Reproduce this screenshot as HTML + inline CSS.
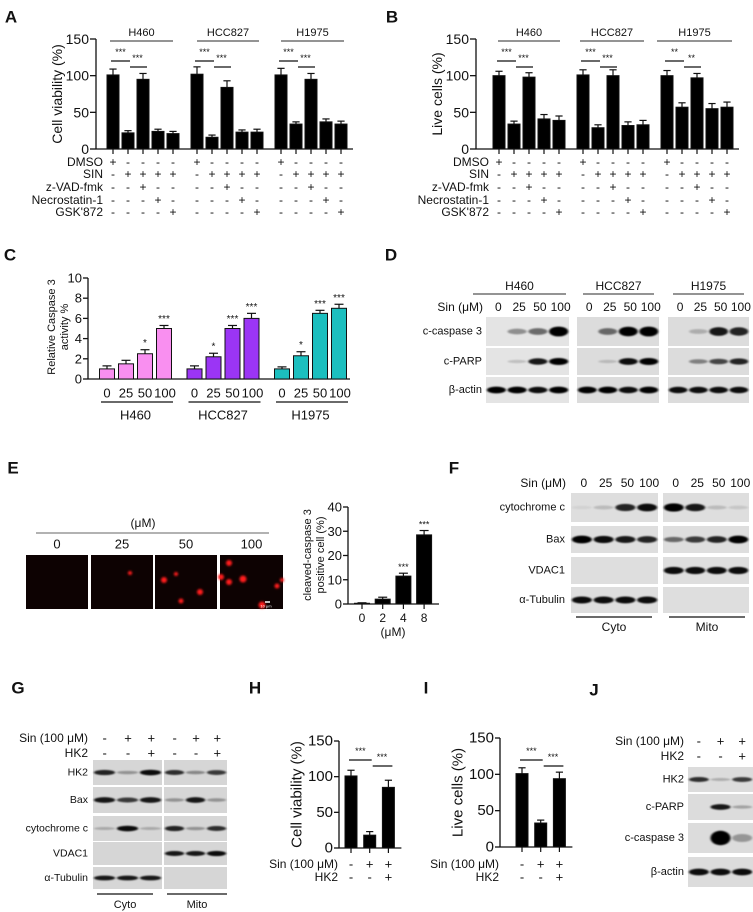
<!DOCTYPE html>
<html><head><meta charset="utf-8">
<style>
html,body{margin:0;padding:0;background:#fff;}
svg{display:block;font-family:"Liberation Sans",Arial,sans-serif;}
</style></head>
<body>
<svg id="fig" width="753" height="912" viewBox="0 0 753 912" xmlns="http://www.w3.org/2000/svg">
<defs>
<filter id="blur1" x="-50%" y="-100%" width="200%" height="300%"><feGaussianBlur stdDeviation="1.1 0.9"/></filter>
<filter id="blur2" x="-50%" y="-50%" width="200%" height="200%"><feGaussianBlur stdDeviation="1.1"/></filter>
</defs>
</svg>
<script>
// ---------- data ----------
const groupsABC = ['H460','HCC827','H1975'];
const aH460 = [101,22,95,24,21];
const aHCC827 = [102,16,84,23,23];
const aH1975 = [101,34,95,37,34];
const aErrH460 = [8,3,8,3,3];
const aErrHCC827 = [10,3,9,3,4];
const aErrH1975 = [9,3,8,4,4];
const bH460 = [100,34,98,41,39];
const bHCC827 = [101,29,100,32,33];
const bH1975 = [100,57,97,55,57];
const bErrH460 = [6,4,6,6,6];
const bErrHCC827 = [7,4,8,5,6];
const bErrH1975 = [7,6,6,7,7];
const sigA = ['***','***','***','***','***','***'];
const sigB = ['***','***','***','***','**','**'];
const abTicks = [0,50,100,150];
const treatLabels = ['DMSO','SIN','z-VAD-fmk','Necrostatin-1',"GSK'872"];
const treatDMSO = ['+','-','-','-','-'];
const treatSIN = ['-','+','+','+','+'];
const treatZVAD = ['-','-','+','-','-'];
const treatNec = ['-','-','-','+','-'];
const treatGSK = ['-','-','-','-','+'];
const cDoses = ['0','25','50','100'];
const cH460 = [1.0,1.5,2.5,5.0];
const cHCC827 = [1.0,2.2,5.0,6.0];
const cH1975 = [1.0,2.3,6.5,7.0];
const cErrH460 = [0.3,0.35,0.4,0.3];
const cErrHCC827 = [0.3,0.35,0.3,0.5];
const cErrH1975 = [0.2,0.4,0.3,0.4];
const cSigH460 = ['','','*','***'];
const cSigHCC827 = ['','*','***','***'];
const cSigH1975 = ['','*','***','***'];
const cTicks = [0,2,4,6,8,10];
const eDoses = ['0','2','4','8'];
const eVals = [0.3,2,11.5,28.5];
const eErrs = [0.2,0.8,1.2,1.8];
const eSig = ['','','***','***'];
const eTicks = [0,10,20,30,40];
const hVals = [101,18,85];
const hErrs = [8,5,10];
const iVals = [101,33,94];
const iErrs = [8,4,9];
const hiTicks = [0,50,100,150];
const hiSin = ['-','+','+'];
const hiHK2 = ['-','-','+'];

// ---------- helpers ----------
const NS = 'http://www.w3.org/2000/svg';
const svg = document.getElementById('fig');
function mk(tag, attrs, parent, name) {
  const el = document.createElementNS(NS, tag);
  for (const k in attrs) el.setAttribute(k, attrs[k]);
  
  
  (parent || svg).appendChild(el);
  return el;
}
function grp(name) { return mk('g', {}, svg, name); }
function txt(p, x, y, s, size, anchor, name, extra) {
  const a = {x: x, y: y, 'font-size': size, 'text-anchor': anchor || 'middle', 'dominant-baseline': 'central', fill: '#111'};
  if (extra) for (const k in extra) a[k] = extra[k];
  const t = mk('text', a, p, name);
  t.textContent = s;
  return t;
}
function line(p, x1, y1, x2, y2, name, w, col) {
  return mk('line', {x1: x1, y1: y1, x2: x2, y2: y2, stroke: col || '#111', 'stroke-width': w || 1}, p, name);
}
function yAxis(p, x, yf, ticks, size, name, tickLen) {
  line(p, x, yf(ticks[ticks.length - 1]), x, yf(ticks[0]), name + '-line', 1.3);
  ticks.forEach(t => {
    line(p, x - (tickLen || 5), yf(t), x, yf(t), name + '-tick', 1.3);
    txt(p, x - (tickLen || 5) - 1, yf(t), String(t), size, 'end', name + '-label');
  });
}
function bars(p, vals, errs, xf, yf, w, fill, name, sigs, sigSize) {
  vals.forEach((v, i) => {
    const x = xf(i), top = yf(v), base = yf(0);
    mk('rect', {x: x - w / 2, y: top, width: w, height: base - top, fill: fill, stroke: '#111', 'stroke-width': 1}, p, name + '-bar');
    const et = yf(v + errs[i]);
    line(p, x, top, x, et, name + '-error', 1.2);
    line(p, x - w * 0.3, et, x + w * 0.3, et, name + '-error-cap', 1.2);
    if (sigs && sigs[i]) txt(p, x, et - 6, sigs[i], sigSize || 9, 'middle', name + '-significance');
  });
}
function panelLabel(x, y, s) { txt(svg, x, y, s, 17, 'middle', 'panel-label-' + s.toLowerCase(), {'font-weight': 'bold'}); }

// ---------- panels A / B ----------
function panelAB(letter, axisX, firstX, title, vals, errs, sigs, labelRight, hdrs) {
  const p = grp('panel-' + letter.toLowerCase());
  panelLabel(letter === 'A' ? 11 : 392, 17, letter);
  const yf = v => 149 - v * 110 / 150;
  const xf = (g, j) => firstX + g * 84 + j * 15;
  yAxis(p, axisX, yf, abTicks, 14, 'y-axis-' + letter.toLowerCase(), 6);
  line(p, axisX, 149, xf(2, 4) + 12, 149, 'x-axis-' + letter.toLowerCase(), 1.3);
  txt(p, axisX - 39, 94, title, 14, 'middle', 'y-axis-title-' + letter.toLowerCase(), {transform: 'rotate(-90 ' + (axisX - 39) + ' 94)'});
  const rows = [treatDMSO, treatSIN, treatZVAD, treatNec, treatGSK];
  const rowY = [162, 174, 187, 200, 212];
  groupsABC.forEach((gname, g) => {
    bars(p, vals[g], errs[g], j => xf(g, j), yf, 12, '#000', 'bar-' + letter.toLowerCase() + '-' + gname.toLowerCase());
    for (let j = 0; j < 5; j++) line(p, xf(g, j), 149, xf(g, j), 154, 'x-tick', 1.2);
    line(p, hdrs[g][0], 41, hdrs[g][1], 41, 'group-line-' + gname.toLowerCase(), 1.2, '#555');
    txt(p, (hdrs[g][0] + hdrs[g][1]) / 2, 33, gname, 11, 'middle', 'group-header-' + gname.toLowerCase());
    const y1 = 61, y2 = 67;
    line(p, xf(g, 0) - 2, y1, xf(g, 1) + 2, y1, 'sig-bracket', 1.2);
    txt(p, (xf(g, 0) + xf(g, 1)) / 2, y1 - 9, sigs[g * 2], 9, 'middle', 'sig-stars');
    line(p, xf(g, 1) + 2, y2, xf(g, 2) + 4, y2, 'sig-bracket', 1.2);
    txt(p, (xf(g, 1) + xf(g, 2)) / 2 + 2, y2 - 9, sigs[g * 2 + 1], 9, 'middle', 'sig-stars');
    rows.forEach((r, ri) => r.forEach((s, j) => txt(p, xf(g, j), rowY[ri], s, 12, 'middle', 'treatment-sign')));
  });
  treatLabels.forEach((l, ri) => txt(p, labelRight, rowY[ri], l, 12, 'end', 'treatment-label'));
}
panelAB('A', 96, 113, 'Cell viability (%)', [aH460, aHCC827, aH1975], [aErrH460, aErrHCC827, aErrH1975], sigA, 103,
  [[110, 173], [197, 259], [281, 344]]);
panelAB('B', 476, 499, 'Live cells (%)', [bH460, bHCC827, bH1975], [bErrH460, bErrHCC827, bErrH1975], sigB, 489,
  [[498, 560], [580, 644], [657, 732]]);

// ---------- panel C ----------
(function () {
  const p = grp('panel-c');
  panelLabel(10, 255, 'C');
  const yf = v => 379 - v * 10.1;
  const xf = (g, j) => 107 + g * 87.5 + j * 19;
  yAxis(p, 88, yf, cTicks, 13, 'y-axis-c', 5);
  line(p, 88, 379, 350, 379, 'x-axis-c', 1.3);
  txt(p, 52, 327, 'Relative Caspase 3', 11, 'middle', 'y-axis-title-c', {transform: 'rotate(-90 52 327)'});
  txt(p, 65, 327, 'activity %', 11, 'middle', 'y-axis-title-c-2', {transform: 'rotate(-90 65 327)'});
  const cols = ['#f98ff0', '#9b35f5', '#1cbfbf'];
  const vals = [cH460, cHCC827, cH1975], errs = [cErrH460, cErrHCC827, cErrH1975], sigs = [cSigH460, cSigHCC827, cSigH1975];
  groupsABC.forEach((gname, g) => {
    bars(p, vals[g], errs[g], j => xf(g, j), yf, 15, cols[g], 'bar-c-' + gname.toLowerCase(), sigs[g], 10);
    cDoses.forEach((d, j) => txt(p, xf(g, j) + (j === 3 ? 1 : 0), 393, d, 13, 'middle', 'dose-label'));
    line(p, xf(g, 0) - 6, 402, xf(g, 3) + 9, 402, 'group-line-c', 1.2);
    txt(p, (xf(g, 0) + xf(g, 3)) / 2, 415, gname, 13, 'middle', 'group-label-c');
  });
})();

// ---------- blot helper ----------
function blot(p, x, y, w, h, lanes, name, bg, thick) {
  mk('rect', {x: x, y: y, width: w, height: h, fill: bg || '#dadada'}, p, name + '-membrane');
  const n = lanes.length;
  lanes.forEach((v, i) => {
    if (v <= 0) return;
    const cx = x + w * (i + 0.5) / n;
    mk('ellipse', {cx: cx, cy: y + h / 2, rx: w / n * 0.46, ry: h * (thick || 0.1) * (0.45 + 0.75 * v), fill: '#000', opacity: Math.min(1, v * 1.05), filter: 'url(#blur1)'}, p, name + '-band');
  });
}

// ---------- panel D ----------
(function () {
  const p = grp('panel-d');
  panelLabel(391, 255, 'D');
  const cols = [[486, 569], [577, 659], [668, 749]];
  const hdr = [[473, 566], [583, 654], [673, 744]];
  const rowsY = [[317, 346], [348, 375], [377, 403]];
  const rowNames = ['c-caspase 3', 'c-PARP', 'β-actin'];
  const data = [
    [[0, 0.35, 0.5, 1], [0, 0.15, 0.85, 0.95], [0.95, 0.95, 0.9, 0.95]],
    [[0, 0.5, 0.95, 1], [0, 0.15, 0.9, 0.95], [0.95, 1, 0.9, 1]],
    [[0, 0.2, 0.85, 0.8], [0, 0.4, 0.65, 0.8], [0.9, 0.9, 0.9, 0.9]]
  ];
  txt(p, 483, 307, 'Sin (μM)', 12, 'end', 'sin-label-d');
  groupsABC.forEach((gname, g) => {
    txt(p, (hdr[g][0] + hdr[g][1]) / 2, 286, gname, 12, 'middle', 'blot-header-' + gname.toLowerCase());
    line(p, hdr[g][0], 294, hdr[g][1], 294, 'blot-header-line', 1.2, '#555');
    const c = cols[g], lw = (c[1] - c[0]) / 4;
    cDoses.forEach((d, j) => txt(p, c[0] + lw * (j + 0.5) + 2, 307, d, 12, 'middle', 'lane-dose'));
    rowsY.forEach((r, ri) => blot(p, c[0], r[0], c[1] - c[0], r[1] - r[0], data[g][ri], 'blot-d-' + gname.toLowerCase(), g === 0 ? '#e4e4e4' : '#dcdcdc', ri === 0 ? 0.14 : 0.11));
  });
  rowNames.forEach((n, ri) => txt(p, 482, (rowsY[ri][0] + rowsY[ri][1]) / 2, n, 11, 'end', 'blot-row-label'));
})();

// ---------- panel E ----------
(function () {
  const p = grp('panel-e');
  panelLabel(13, 468, 'E');
  txt(p, 143, 523, '(μM)', 12, 'middle', 'unit-label-e');
  line(p, 36, 533, 269, 533, 'dose-line-e', 1.5, '#999');
  const imgs = [[26, 88, '0'], [91, 153, '25'], [155, 217, '50'], [220, 283, '100']];
  const spots = [[], [[130, 573, 2]], [[164, 580, 3], [176, 574, 2], [200, 592, 3], [181, 601, 2.5]],
    [[229, 563, 3], [221, 577, 3], [229, 582, 3], [243, 579, 3.5], [277, 586, 2.5], [282, 580, 2], [262, 605, 3.5]]];
  imgs.forEach((im, k) => {
    txt(p, (im[0] + im[1]) / 2, 544, im[2], 13, 'middle', 'image-dose-label');
    mk('rect', {x: im[0], y: 555, width: im[1] - im[0], height: 54, fill: '#0d0202'}, p, 'fluorescence-image');
    spots[k].forEach(s => mk('circle', {cx: s[0], cy: s[1], r: s[2], fill: '#ff1a1a', filter: 'url(#blur2)'}, p, 'fluorescent-cell'));
  });
  line(p, 265, 602, 270, 602, 'scale-bar', 1.5, '#fff');
  txt(p, 266, 606, '10 μm', 4, 'middle', 'scale-bar-label', {fill: '#fff'});
  const yf = v => 604 - v * 97 / 40;
  const xf = i => 362 + i * 20.7;
  yAxis(p, 348, yf, eTicks, 13, 'y-axis-e', 5);
  line(p, 348, 604, 439, 604, 'x-axis-e', 1.3);
  bars(p, eVals, eErrs, xf, yf, 15, '#000', 'bar-e', eSig, 9);
  eDoses.forEach((d, i) => { line(p, xf(i), 604, xf(i), 609, 'x-tick', 1.2); txt(p, xf(i), 618, d, 12, 'middle', 'dose-label-e'); });
  txt(p, 393, 632, '(μM)', 12, 'middle', 'x-axis-title-e');
  txt(p, 308, 555, 'cleaved-caspase 3', 11, 'middle', 'y-axis-title-e', {transform: 'rotate(-90 308 555)'});
  txt(p, 321, 555, 'positive cell (%)', 11, 'middle', 'y-axis-title-e-2', {transform: 'rotate(-90 321 555)'});
})();

// ---------- panel F ----------
(function () {
  const p = grp('panel-f');
  panelLabel(454, 468, 'F');
  txt(p, 566, 483, 'Sin (μM)', 12, 'end', 'sin-label-f');
  const cols = [[571, 658], [663, 749]];
  const rowsY = [[493, 522], [526, 553], [557, 584], [587, 613]];
  const names = ['cytochrome c', 'Bax', 'VDAC1', 'α-Tubulin'];
  const data = [
    [[0.05, 0.15, 0.8, 0.9], [1, 0.9, 0.85, 0.8], [0, 0, 0, 0], [0.9, 0.9, 0.9, 0.9]],
    [[1, 0.85, 0.15, 0.1], [0.5, 0.7, 0.8, 1], [0.9, 0.9, 0.9, 0.9], [0, 0, 0, 0]]
  ];
  const frac = ['Cyto', 'Mito'];
  const lines = [[576, 652], [669, 745]];
  cols.forEach((c, g) => {
    const lw = (c[1] - c[0]) / 4;
    cDoses.forEach((d, j) => txt(p, c[0] + lw * (j + 0.5) + 2, 483, d, 12, 'middle', 'lane-dose'));
    rowsY.forEach((r, ri) => blot(p, c[0], r[0], c[1] - c[0], r[1] - r[0], data[g][ri], 'blot-f-' + frac[g].toLowerCase(), '#dedede', 0.12));
    line(p, lines[g][0], 617, lines[g][1], 617, 'fraction-line', 1.3);
    txt(p, (lines[g][0] + lines[g][1]) / 2, 627, frac[g], 12, 'middle', 'fraction-label');
  });
  names.forEach((n, ri) => txt(p, 565, (rowsY[ri][0] + rowsY[ri][1]) / 2, n, 11, 'end', 'blot-row-label'));
})();

// ---------- panel G ----------
(function () {
  const p = grp('panel-g');
  panelLabel(18, 688, 'G');
  txt(p, 88, 738, 'Sin (100 μM)', 12, 'end', 'sin-label-g');
  txt(p, 88, 753, 'HK2', 12, 'end', 'hk2-label-g');
  const cols = [[93, 163], [164, 228]];
  const rowsY = [[760, 785], [787, 813], [816, 841], [842, 865], [867, 889]];
  const names = ['HK2', 'Bax', 'cytochrome c', 'VDAC1', 'α-Tubulin'];
  const data = [
    [[0.8, 0.3, 0.9], [0.85, 0.7, 0.85], [0.2, 0.9, 0.2], [0, 0, 0], [0.85, 0.85, 0.85]],
    [[0.75, 0.35, 0.7], [0.3, 0.85, 0.3], [0.8, 0.3, 0.75], [0.85, 0.85, 0.9], [0, 0, 0]]
  ];
  const frac = ['Cyto', 'Mito'];
  const lines = [[97, 153], [167, 227]];
  cols.forEach((c, g) => {
    const lw = (c[1] - c[0]) / 3;
    hiSin.forEach((s, j) => txt(p, c[0] + lw * (j + 0.5), 738, s, 13, 'middle', 'sin-sign'));
    hiHK2.forEach((s, j) => txt(p, c[0] + lw * (j + 0.5), 753, s, 13, 'middle', 'hk2-sign'));
    rowsY.forEach((r, ri) => blot(p, c[0], r[0], c[1] - c[0] - 1, r[1] - r[0], data[g][ri], 'blot-g-' + frac[g].toLowerCase(), '#d6d6d6', 0.1));
    line(p, lines[g][0], 894, lines[g][1], 894, 'fraction-line', 1.3);
    txt(p, (lines[g][0] + lines[g][1]) / 2, 905, frac[g], 11, 'middle', 'fraction-label');
  });
  names.forEach((n, ri) => txt(p, 88, (rowsY[ri][0] + rowsY[ri][1]) / 2, n, 10.5, 'end', 'blot-row-label'));
})();

// ---------- panels H / I ----------
function panelHI(letter, lx, axisX, firstX, y150, y0, title, vals, errs, signRight) {
  const p = grp('panel-' + letter.toLowerCase());
  panelLabel(lx, 688, letter);
  const yf = v => y0 - v * (y0 - y150) / 150;
  const xf = i => firstX + i * 18.7;
  yAxis(p, axisX, yf, hiTicks, 15, 'y-axis-' + letter.toLowerCase(), 5);
  line(p, axisX, y0, xf(2) + 13, y0, 'x-axis-' + letter.toLowerCase(), 1.3);
  bars(p, vals, errs, xf, yf, 12, '#000', 'bar-' + letter.toLowerCase());
  vals.forEach((v, i) => line(p, xf(i), y0, xf(i), y0 + 5, 'x-tick', 1.2));
  txt(p, axisX - 42, (y150 + y0) / 2, title, 15, 'middle', 'y-axis-title-' + letter.toLowerCase(), {transform: 'rotate(-90 ' + (axisX - 42) + ' ' + (y150 + y0) / 2 + ')'});
  line(p, xf(0) - 2, 760, xf(1) + 2, 760, 'sig-bracket', 1.2);
  txt(p, (xf(0) + xf(1)) / 2, 751, '***', 9, 'middle', 'sig-stars');
  line(p, xf(1) + 3, 766, xf(2) + 4, 766, 'sig-bracket', 1.2);
  txt(p, (xf(1) + xf(2)) / 2 + 3, 757, '***', 9, 'middle', 'sig-stars');
  txt(p, signRight, 864, 'Sin (100 μM)', 12, 'end', 'sin-label-' + letter.toLowerCase());
  txt(p, signRight, 877, 'HK2', 12, 'end', 'hk2-label-' + letter.toLowerCase());
  hiSin.forEach((s, i) => txt(p, xf(i), 864, s, 13, 'middle', 'sin-sign'));
  hiHK2.forEach((s, i) => txt(p, xf(i), 877, s, 13, 'middle', 'hk2-sign'));
}
panelHI('H', 255, 339, 351, 741, 848, 'Cell viability (%)', hVals, hErrs, 338);
panelHI('I', 426, 500, 522, 738, 847, 'Live cells (%)', iVals, iErrs, 499);

// ---------- panel J ----------
(function () {
  const p = grp('panel-j');
  panelLabel(594, 690, 'J');
  txt(p, 684, 741, 'Sin (100 μM)', 12, 'end', 'sin-label-j');
  txt(p, 684, 756, 'HK2', 12, 'end', 'hk2-label-j');
  const c = [688, 753];
  const lw = (c[1] - c[0]) / 3;
  hiSin.forEach((s, j) => txt(p, c[0] + lw * (j + 0.5), 741, s, 13, 'middle', 'sin-sign'));
  hiHK2.forEach((s, j) => txt(p, c[0] + lw * (j + 0.5), 756, s, 13, 'middle', 'hk2-sign'));
  const rowsY = [[767, 792], [794, 820], [823, 853], [857, 887]];
  const names = ['HK2', 'c-PARP', 'c-caspase 3', 'β-actin'];
  const data = [[0.75, 0.2, 0.7], [0, 0.85, 0.25], [0, 1, 0.3], [0.9, 0.9, 0.9]];
  rowsY.forEach((r, ri) => blot(p, c[0], r[0], c[1] - c[0], r[1] - r[0], data[ri], 'blot-j', '#dcdcdc', ri === 2 ? 0.2 : 0.1));
  names.forEach((n, ri) => txt(p, 684, (rowsY[ri][0] + rowsY[ri][1]) / 2, n, 11, 'end', 'blot-row-label'));
})();
</script>
</body></html>
